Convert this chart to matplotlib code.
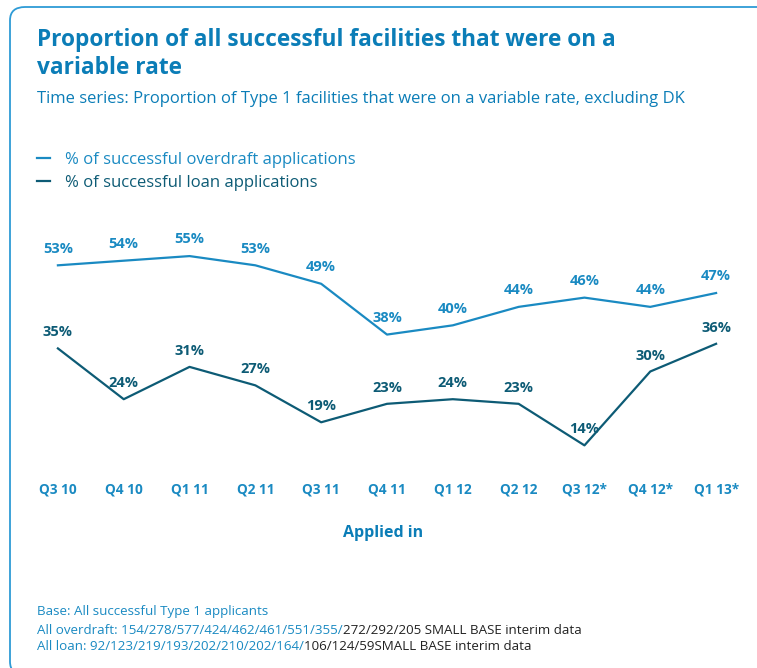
import matplotlib.pyplot as plt
from matplotlib.patches import FancyBboxPatch

plt.rcParams['font.family'] = ['Open Sans', 'DejaVu Sans']

quarters = ["Q3 10", "Q4 10", "Q1 11", "Q2 11", "Q3 11", "Q4 11",
            "Q1 12", "Q2 12", "Q3 12*", "Q4 12*", "Q1 13*"]
overdraft = [53, 54, 55, 53, 49, 38, 40, 44, 46, 44, 47]
loan = [35, 24, 31, 27, 19, 23, 24, 23, 14, 30, 36]

BLUE = "#1a8ac2"
DARK = "#0d5b75"
TITLE = "#0b7db7"
BLACK = "#222222"

W, H = 757, 668
fig = plt.figure(figsize=(W / 100, H / 100), dpi=100)


def px(x, y):
    # pixel position (from top-left) -> figure fraction
    return x / W, 1 - y / H


# rounded frame, running off the right and bottom edges
frame = FancyBboxPatch(px(10, 675), 770 / W, 668 / H,
                       boxstyle="round,pad=0,rounding_size=0.02",
                       transform=fig.transFigure, fill=False,
                       edgecolor="#2e9bd6", linewidth=1.3, clip_on=False)
fig.patches.append(frame)

fig.text(*px(37, 40), "Proportion of all successful facilities that were on a",
         color=TITLE, fontsize=16.3, fontweight="bold", va="center")
fig.text(*px(37, 68), "variable rate",
         color=TITLE, fontsize=16.3, fontweight="bold", va="center")
fig.text(*px(37, 99),
         "Time series: Proportion of Type 1 facilities that were on a variable rate, excluding DK",
         color=TITLE, fontsize=12, va="center")

ax = fig.add_axes([25 / W, (H - 510) / H, 724 / W, 277 / H])
x = list(range(len(quarters)))
l1, = ax.plot(x, overdraft, color=BLUE, lw=1.6)
l2, = ax.plot(x, loan, color=DARK, lw=1.6)

for xi, v in zip(x, overdraft):
    ax.annotate(f"{v}%", (xi, v), xytext=(0, 12), textcoords="offset points",
                ha="center", va="center", color=BLUE, fontsize=10.5,
                fontweight="bold")
for xi, v in zip(x, loan):
    ax.annotate(f"{v}%", (xi, v), xytext=(0, 11.5), textcoords="offset points",
                ha="center", va="center", color=DARK, fontsize=10.5,
                fontweight="bold")

ax.set_xlim(-0.5, len(quarters) - 0.5)
ax.set_ylim(0, 60)
ax.set_xticks(x)
ax.set_xticklabels(quarters, color=BLUE, fontsize=9.8, fontweight="bold")
ax.tick_params(axis="x", length=0, pad=-20)
ax.set_yticks([])
for s in ax.spines.values():
    s.set_visible(False)
ax.patch.set_alpha(0)

fig.text(*px(383, 533), "Applied in", color=TITLE, fontsize=11.5,
         fontweight="bold", ha="center", va="center")

leg = fig.legend([l1, l2], ["% of successful overdraft applications",
                            "% of successful loan applications"],
                 loc="upper left", bbox_to_anchor=px(37, 152), frameon=False,
                 fontsize=12, handlelength=0.8, handletextpad=0.9,
                 labelspacing=0.4, borderaxespad=0, borderpad=0)
for t, c in zip(leg.get_texts(), [BLUE, DARK]):
    t.set_color(c)

fig.canvas.draw()
renderer = fig.canvas.get_renderer()


def segmented(y, parts):
    # draw consecutive text runs of different colours on one line
    xpos = 37
    for s, c in parts:
        t = fig.text(*px(xpos, y), s, color=c, fontsize=9.6, va="center")
        xpos += t.get_window_extent(renderer).width


segmented(612, [("Base: All successful Type 1 applicants", BLUE)])
segmented(630, [("All overdraft: 154/278/577/424/462/461/551/355/", BLUE),
                ("272/292/205 SMALL BASE interim data", BLACK)])
segmented(647, [("All loan: 92/123/219/193/202/210/202/164/", BLUE),
                ("106/124/59SMALL BASE interim data", BLACK)])

fig.savefig("out.png", dpi=100)
